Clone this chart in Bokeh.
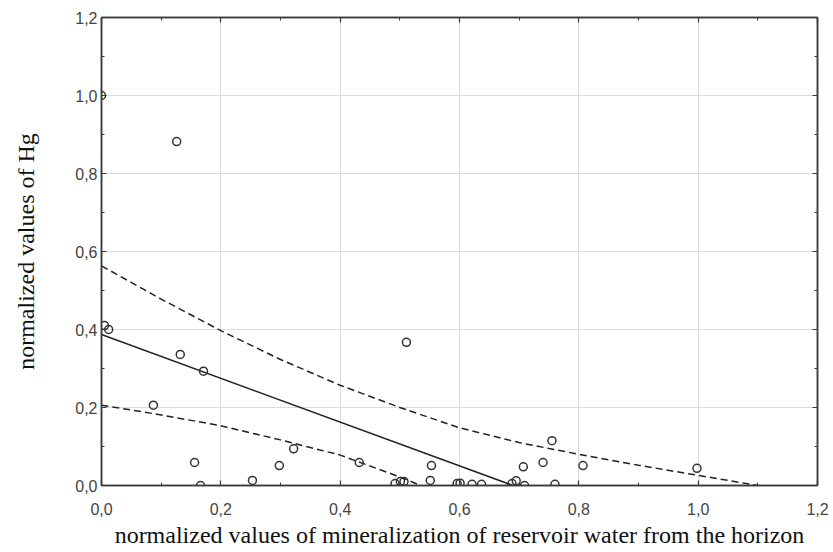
from bokeh.plotting import figure
from bokeh.models import Range1d, LinearAxis, FixedTicker, CustomJSTickFormatter, Grid
from bokeh.embed import file_html
from bokeh.resources import INLINE

# scatter data (normalized mineralization vs normalized Hg)
x_vals = [0.0, 0.126, 0.005, 0.012, 0.132, 0.171, 0.087, 0.156, 0.166, 0.253, 0.298,
          0.322, 0.511, 0.432, 0.553, 0.551, 0.492, 0.501, 0.507, 0.596, 0.601, 0.621,
          0.637, 0.688, 0.695, 0.709, 0.707, 0.740, 0.755, 0.760, 0.807, 0.998]
y_vals = [1.0, 0.882, 0.41, 0.40, 0.336, 0.293, 0.206, 0.059, 0.0, 0.013, 0.051,
          0.094, 0.367, 0.059, 0.051, 0.013, 0.005, 0.010, 0.010, 0.005, 0.006, 0.003,
          0.003, 0.005, 0.012, 0.0, 0.048, 0.059, 0.115, 0.003, 0.051, 0.044]

# regression line
fit_x = [0.0, 0.69]
fit_y = [0.387, 0.0]

# confidence band (upper / lower)
upper_x = [0.0, 0.1, 0.2, 0.3, 0.4, 0.5, 0.6, 0.7, 0.8, 0.9, 1.0, 1.1]
upper_y = [0.563, 0.478, 0.397, 0.323, 0.257, 0.200, 0.148, 0.110, 0.080, 0.052, 0.026, 0.0]
lower_x = [0.0, 0.1, 0.2, 0.3, 0.4, 0.5, 0.535]
lower_y = [0.206, 0.181, 0.153, 0.117, 0.078, 0.022, 0.0]

major_ticks = [0.0, 0.2, 0.4, 0.6, 0.8, 1.0, 1.2]
minor_ticks = [0.1, 0.3, 0.5, 0.7, 0.9, 1.1]
tick_labels = {0.0: "0,0", 0.2: "0,2", 0.4: "0,4", 0.6: "0,6", 0.8: "0,8", 1.0: "1,0", 1.2: "1,2"}

x_title = "normalized values of mineralization of reservoir water from the horizon"
y_title = "normalized values of Hg"

FRAME = "#3a3a3a"
TICKFONT = "Liberation Sans"
TITLEFONT = "Liberation Serif"

p = figure(width=830, height=550, output_backend="svg", toolbar_location=None,
           x_range=Range1d(0, 1.2), y_range=Range1d(0, 1.2),
           x_axis_location=None, y_axis_location=None,
           min_border_left=101, min_border_right=13, min_border_top=17, min_border_bottom=62)
p.outline_line_color = FRAME
p.outline_line_width = 1.5
p.background_fill_color = "white"
p.border_fill_color = "white"


def style_axis(ax, labels=True):
    ax.ticker = FixedTicker(ticks=major_ticks, minor_ticks=minor_ticks)
    ax.axis_line_color = FRAME
    ax.axis_line_width = 1.5
    ax.major_tick_in = 5
    ax.major_tick_out = 0
    ax.minor_tick_in = 3
    ax.minor_tick_out = 0
    ax.major_tick_line_color = FRAME
    ax.minor_tick_line_color = FRAME
    ax.major_tick_line_width = 1.2
    ax.minor_tick_line_width = 1.0
    if labels:
        ax.major_label_overrides = tick_labels
        ax.major_label_text_font = TICKFONT
        ax.major_label_text_font_size = "16px"
        ax.major_label_text_color = "#444444"
        ax.axis_label_text_font = TITLEFONT
        ax.axis_label_text_font_size = "24px"
        ax.axis_label_text_font_style = "normal"
        ax.axis_label_text_color = "#111111"
    else:
        ax.formatter = CustomJSTickFormatter(code="return ''")
        ax.major_label_text_font_size = "1px"
        ax.major_label_standoff = 0


xb = LinearAxis(axis_label=x_title)
style_axis(xb)
xb.major_label_standoff = 17
xb.axis_label_standoff = 4
p.add_layout(xb, "below")

yl = LinearAxis(axis_label=y_title)
style_axis(yl)
yl.major_label_standoff = 4
yl.axis_label_standoff = 33
p.add_layout(yl, "left")

xt = LinearAxis()
style_axis(xt, labels=False)
p.add_layout(xt, "above")

yr = LinearAxis()
style_axis(yr, labels=False)
p.add_layout(yr, "right")

p.xgrid.visible = False
p.ygrid.visible = False
p.add_layout(Grid(dimension=0, ticker=FixedTicker(ticks=major_ticks),
                  grid_line_color="#dcdcdc", grid_line_width=1))
p.add_layout(Grid(dimension=1, ticker=FixedTicker(ticks=major_ticks),
                  grid_line_color="#dcdcdc", grid_line_width=1))

p.line(upper_x, upper_y, line_color="#222222", line_width=1.5, line_dash="7 4")
p.line(lower_x, lower_y, line_color="#222222", line_width=1.5, line_dash="7 4")
p.line(fit_x, fit_y, line_color="#222222", line_width=1.5)
p.scatter(x_vals, y_vals, marker="circle", size=8, fill_color=None,
          line_color="#333333", line_width=1.5)

open("out.html", "w").write(file_html(p, INLINE))
